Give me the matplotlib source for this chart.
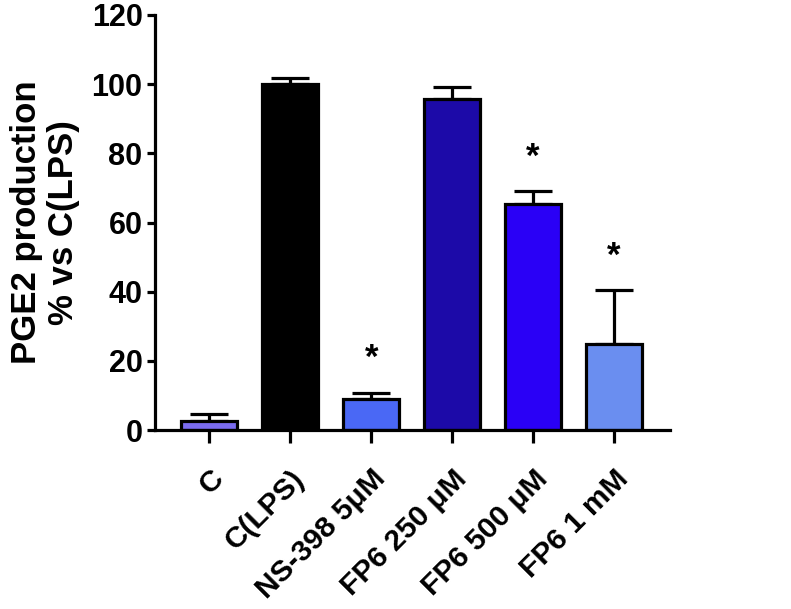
import matplotlib
matplotlib.use("Agg")
import matplotlib.pyplot as plt
import numpy as np

categories = ["C", "C(LPS)", "NS-398 5\u03bcM", "FP6 250 \u03bcM", "FP6 500 \u03bcM", "FP6 1 mM"]
values = [2.5, 100.0, 9.0, 95.8, 65.3, 24.9]
errors = [2.0, 1.9, 1.8, 3.4, 3.7, 15.6]
colors = ["#7B6CF0", "#000000", "#4A68F5", "#1C0AA8", "#2A00F6", "#6A8EF0"]
significant = [False, False, True, False, True, True]
yticks = [0, 20, 40, 60, 80, 100, 120]

plt.rcParams['font.family'] = ['Liberation Sans', 'DejaVu Sans']
plt.rcParams['font.weight'] = 'bold'

fig = plt.figure(figsize=(7.91, 6.09), dpi=100)
ax = fig.add_axes([155/791, 1-430/609, (670-155)/791, (430-15)/609])

x = np.arange(len(categories))
ax.errorbar(x, values, yerr=[np.zeros(len(values)), errors], fmt='none',
            ecolor='black', elinewidth=2.3, capsize=14, capthick=2.3, zorder=1)
ax.bar(x, values, width=0.69, color=colors, edgecolor='black', linewidth=2.3, zorder=2)

for xi, v, e, s in zip(x, values, errors, significant):
    if s:
        ax.text(xi, v + e + 9.8, "*", ha='center', va='center', fontsize=25, fontweight='bold')

ax.set_xlim(-0.67, 5.69)
ax.set_ylim(0, 120)
ax.set_yticks(yticks)
ax.set_xticks(x)
ax.set_xticklabels(categories, rotation=45, ha='right', rotation_mode='anchor', fontsize=21.5, fontweight='bold')
ax.tick_params(axis='y', labelsize=22, width=2.3, length=6, pad=3)
ax.tick_params(axis='x', width=2.3, length=9, pad=16)
for lbl in ax.get_yticklabels():
    lbl.set_fontweight('bold')

for sp in ['top', 'right']:
    ax.spines[sp].set_visible(False)
for sp in ['left', 'bottom']:
    ax.spines[sp].set_linewidth(2.3)

ax.set_ylabel("PGE2 production\n% vs C(LPS)", fontsize=25, fontweight='bold', labelpad=8, linespacing=1.15)

fig.savefig("out.png", dpi=100)
